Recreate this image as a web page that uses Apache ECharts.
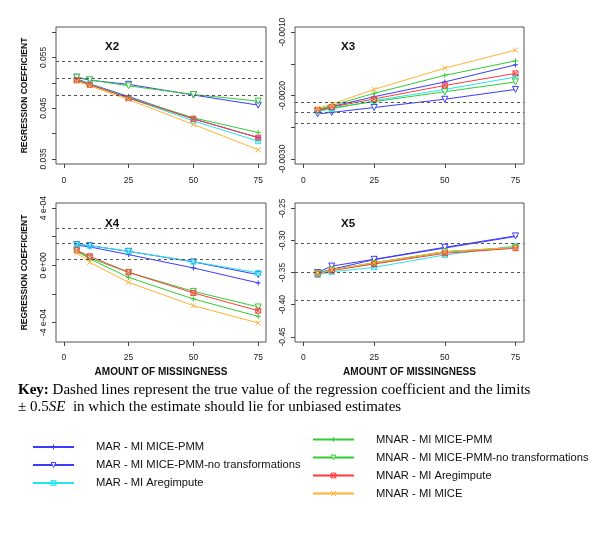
<!DOCTYPE html>
<html>
<head>
<meta charset="utf-8">
<script src="https://cdn.jsdelivr.net/npm/echarts@6/dist/echarts.min.js"></script>
<style>html,body{margin:0;padding:0;background:#fff}#c{width:600px;height:546px}</style>
</head>
<body>
<div id="c"></div>
<script>
// ---------------- DATA ----------------
const missing = [5, 10, 25, 50, 75];
const methodNames = [
  'MAR - MI MICE-PMM',
  'MAR - MI MICE-PMM-no transformations',
  'MAR - MI Aregimpute',
  'MNAR - MI MICE-PMM',
  'MNAR - MI MICE-PMM-no transformations',
  'MNAR - MI Aregimpute',
  'MNAR - MI MICE'
];
const panelTitles = ['X2', 'X3', 'X4', 'X5'];
const xTickValues = [0, 25, 50, 75];

// X2 panel
const x2_marPmm      = [0.0508, 0.0498, 0.0473, 0.0429, 0.0392];
const x2_marNoTrans  = [0.0511, 0.0505, 0.0497, 0.0476, 0.0456];
const x2_marAreg     = [0.0506, 0.0497, 0.0470, 0.0425, 0.0385];
const x2_mnarPmm     = [0.0506, 0.0497, 0.0471, 0.0431, 0.0402];
const x2_mnarNoTrans = [0.0511, 0.0506, 0.0494, 0.0477, 0.0464];
const x2_mnarAreg    = [0.0505, 0.0496, 0.0470, 0.0429, 0.0392];
const x2_mnarMice    = [0.0503, 0.0494, 0.0467, 0.0418, 0.0368];
const x2_trueLines   = [0.05429, 0.05094, 0.04746];
const x2_yTicks      = [0.035, 0.040, 0.045, 0.050, 0.055, 0.060];
const x2_yLabelVals  = [0.035, 0.045, 0.055];
const x2_yLabels     = ['0.035', '0.045', '0.055'];

// X3 panel
const x3_marPmm      = [-0.00224, -0.002174, -0.002019, -0.001786, -0.001516];
const x3_marNoTrans  = [-0.00229, -0.002267, -0.002189, -0.002059, -0.001904];
const x3_marAreg     = [-0.00225, -0.002214, -0.002081, -0.001904, -0.001709];
const x3_mnarPmm     = [-0.00222, -0.002158, -0.001966, -0.001682, -0.001454];
const x3_mnarNoTrans = [-0.00224, -0.002198, -0.002096, -0.001941, -0.001786];
const x3_mnarAreg    = [-0.00223, -0.002183, -0.002054, -0.001842, -0.001651];
const x3_mnarMice    = [-0.00220, -0.002136, -0.001904, -0.001569, -0.001284];
const x3_trueLines   = [-0.002106, -0.002267, -0.002431];
const x3_yTicks      = [-0.0030, -0.0025, -0.0020, -0.0015, -0.0010];
const x3_yLabelVals  = [-0.0030, -0.0020, -0.0010];
const x3_yLabels     = ['-0.0030', '-0.0020', '-0.0010'];

// X4 panel
const x4_marPmm      = [1.40e-4, 1.29e-4, 0.75e-4, -0.18e-4, -1.23e-4];
const x4_marNoTrans  = [1.45e-4, 1.38e-4, 0.98e-4, 0.24e-4, -0.65e-4];
const x4_marAreg     = [1.45e-4, 1.38e-4, 0.98e-4, 0.26e-4, -0.53e-4];
const x4_mnarPmm     = [0.98e-4, 0.45e-4, -0.84e-4, -2.35e-4, -3.57e-4];
const x4_mnarNoTrans = [1.05e-4, 0.52e-4, -0.49e-4, -1.82e-4, -2.91e-4];
const x4_mnarAreg    = [1.05e-4, 0.63e-4, -0.49e-4, -1.93e-4, -3.17e-4];
const x4_mnarMice    = [0.87e-4, 0.21e-4, -1.19e-4, -2.82e-4, -4.03e-4];
const x4_trueLines   = [2.59e-4, 1.52e-4, 0.45e-4];
const x4_yTicks      = [-4e-4, -2e-4, 0, 2e-4, 4e-4];
const x4_yLabelVals  = [-4e-4, 0, 4e-4];
const x4_yLabels     = ['-4 e-04', '0 e+00', '4 e-04'];

// X5 panel
const x5_marPmm      = [-0.351, -0.345, -0.330, -0.312, -0.294];
const x5_marNoTrans  = [-0.350, -0.340, -0.3295, -0.3108, -0.2931];
const x5_marAreg     = [-0.354, -0.349, -0.342, -0.3227, -0.3087];
const x5_mnarPmm     = [-0.351, -0.346, -0.3347, -0.3176, -0.3110];
const x5_mnarNoTrans = [-0.351, -0.346, -0.336, -0.318, -0.3115];
const x5_mnarAreg    = [-0.352, -0.347, -0.3368, -0.3201, -0.3123];
const x5_mnarMice    = [-0.352, -0.346, -0.335, -0.3176, -0.3110];
const x5_trueLines   = [-0.3045, -0.3492, -0.3933];
const x5_yTicks      = [-0.45, -0.40, -0.35, -0.30, -0.25];
const x5_yLabelVals  = [-0.45, -0.40, -0.35, -0.30, -0.25];
const x5_yLabels     = ['-0.45', '-0.40', '-0.35', '-0.30', '-0.25'];

// ---------------- BUILD ----------------
const panels = [
  {vals: [x2_marPmm, x2_marNoTrans, x2_marAreg, x2_mnarPmm, x2_mnarNoTrans, x2_mnarAreg, x2_mnarMice], lines: x2_trueLines, ticks: x2_yTicks, lv: x2_yLabelVals, lt: x2_yLabels, min: 0.034, max: 0.061},
  {vals: [x3_marPmm, x3_marNoTrans, x3_marAreg, x3_mnarPmm, x3_mnarNoTrans, x3_mnarAreg, x3_mnarMice], lines: x3_trueLines, ticks: x3_yTicks, lv: x3_yLabelVals, lt: x3_yLabels, min: -0.00308, max: -0.00092},
  {vals: [x4_marPmm, x4_marNoTrans, x4_marAreg, x4_mnarPmm, x4_mnarNoTrans, x4_mnarAreg, x4_mnarMice], lines: x4_trueLines, ticks: x4_yTicks, lv: x4_yLabelVals, lt: x4_yLabels, min: -5.36e-4, max: 4.36e-4},
  {vals: [x5_marPmm, x5_marNoTrans, x5_marAreg, x5_mnarPmm, x5_mnarNoTrans, x5_mnarAreg, x5_mnarMice], lines: x5_trueLines, ticks: x5_yTicks, lv: x5_yLabelVals, lt: x5_yLabels, min: -0.458, max: -0.242}
];

const PLUS = 'path://M5,0L5,10M0,5L10,5';
const CROSS = 'path://M0,0L10,10M10,0L0,10';
const SQX = 'path://M0,0L10,0L10,10L0,10ZM0,0L10,10M10,0L0,10';
const styles = [
  {c: '#3b3bff', sym: PLUS, rot: 0},
  {c: '#3b3bff', sym: 'triangle', rot: 180},
  {c: '#22e6ee', sym: SQX, rot: 0},
  {c: '#33cc33', sym: PLUS, rot: 0},
  {c: '#33cc33', sym: 'triangle', rot: 180},
  {c: '#ff3b3b', sym: SQX, rot: 0},
  {c: '#ffb233', sym: CROSS, rot: 0}
];
function itemStyleFor(s) {
  return {color: s.sym === 'triangle' ? '#fff' : 'rgba(255,255,255,0)', borderColor: s.c, borderWidth: 1};
}

const grids = [
  {left: 56, top: 27, width: 210, height: 137},
  {left: 295, top: 27, width: 229, height: 137},
  {left: 56, top: 203, width: 210, height: 139},
  {left: 295, top: 203, width: 229, height: 139}
];
const FONT = 'Liberation Sans, Arial, sans-serif';
const SERIF = 'Liberation Serif, Times New Roman, serif';

const xAxes = grids.map((g, i) => ({
  type: 'value', gridIndex: i, min: -3, max: 78,
  axisLine: {show: false, onZero: false},
  splitLine: {show: false},
  axisTick: {show: true, inside: false, length: 4, customValues: xTickValues, lineStyle: {color: '#444'}},
  axisLabel: {customValues: xTickValues, fontSize: 8.5, color: '#222', fontFamily: FONT, margin: i < 2 ? 12 : 11},
  name: i >= 2 ? 'AMOUNT OF MISSINGNESS' : '',
  nameLocation: 'middle', nameGap: 25,
  nameTextStyle: {fontWeight: 'bold', fontSize: 10, color: '#111', fontFamily: FONT}
}));

const yAxes = panels.map((p, i) => ({
  type: 'value', gridIndex: i, min: p.min, max: p.max,
  axisLine: {show: false, onZero: false},
  splitLine: {show: false},
  axisTick: {show: true, inside: false, length: 4, customValues: p.ticks, lineStyle: {color: '#444'}},
  axisLabel: {
    customValues: p.lv, rotate: 90, fontSize: 8.5, color: '#222', fontFamily: FONT, margin: 8,
    formatter: function (v) {
      let best = 0, d = Infinity;
      p.lv.forEach((lv, k) => { const dd = Math.abs(lv - v); if (dd < d) { d = dd; best = k; } });
      return p.lt[best];
    }
  },
  name: (i === 0 || i === 2) ? 'REGRESSION COEFFICIENT' : '',
  nameLocation: 'middle', nameGap: 27, nameRotate: 90,
  nameTextStyle: {fontWeight: 'bold', fontSize: 8.5, color: '#111', fontFamily: FONT}
}));

const series = [];
panels.forEach((p, pi) => {
  series.push({
    type: 'line', name: 'ref' + pi, xAxisIndex: pi, yAxisIndex: pi, data: [],
    silent: true,
    markLine: {
      silent: true, symbol: 'none', animation: false, precision: 10,
      label: {show: false},
      lineStyle: {type: [3, 3], color: '#555', width: 1},
      data: p.lines.map(v => ({yAxis: v}))
    }
  });
  p.vals.forEach((vals, mi) => {
    const s = styles[mi];
    const triangle = s.sym === 'triangle';
    series.push({
      type: 'line', name: methodNames[mi], xAxisIndex: pi, yAxisIndex: pi,
      data: missing.map((x, k) => [x, vals[k]]),
      color: s.c,
      symbol: s.sym, symbolRotate: s.rot, symbolSize: triangle ? 6 : 5,
      showAllSymbol: true,
      lineStyle: {color: s.c, width: 1},
      itemStyle: itemStyleFor(s),
      animation: false
    });
  });
});

const titles = [
  {text: 'X2', left: 113, top: 49},
  {text: 'X3', left: 349, top: 49},
  {text: 'X4', left: 113, top: 226},
  {text: 'X5', left: 349, top: 226}
].map(t => ({
  text: t.text, left: t.left - 8, top: t.top - 8, padding: 0,
  textStyle: {fontSize: 11.5, fontWeight: 'bold', color: '#111', fontFamily: FONT}
}));

const legendCommon = {
  orient: 'vertical', itemWidth: 41, itemHeight: 6, itemGap: 4, padding: 0,
  selectedMode: false,
  textStyle: {fontSize: 11.2, color: '#111', fontFamily: FONT, padding: [0, 0, 0, 17], lineHeight: 14}
};
function legendData(idx) {
  return idx.map(k => ({name: methodNames[k], itemStyle: itemStyleFor(styles[k])}));
}

const option = {
  animation: false,
  backgroundColor: '#fff',
  title: titles,
  grid: grids.map(g => Object.assign({show: true, borderColor: '#555', borderWidth: 1, backgroundColor: 'transparent', containLabel: false}, g)),
  xAxis: xAxes,
  yAxis: yAxes,
  legend: [
    Object.assign({}, legendCommon, {left: 32, top: 440, data: legendData([0, 1, 2])}),
    Object.assign({}, legendCommon, {left: 312, top: 432.5, data: legendData([3, 4, 5, 6])})
  ],
  graphic: [
    {
      type: 'text', left: 18, top: 383,
      style: {
        text: '{b|Key:} Dashed lines represent the true value of the regression coefficient and the limits',
        fill: '#000', font: '15px ' + SERIF,
        rich: {b: {fontWeight: 'bold', fontSize: 15, fontFamily: SERIF, fill: '#000'}}
      }
    },
    {
      type: 'text', left: 18, top: 400,
      style: {
        text: '\u00b1 0.5{i|SE}  in which the estimate should lie for unbiased estimates',
        fill: '#000', font: '15px ' + SERIF,
        rich: {i: {fontStyle: 'italic', fontSize: 15, fontFamily: SERIF, fill: '#000'}}
      }
    }
  ],
  series: series
};

const chart = echarts.init(document.getElementById('c'), null, {renderer: 'canvas'});
chart.setOption(option);
</script>
</body>
</html>
